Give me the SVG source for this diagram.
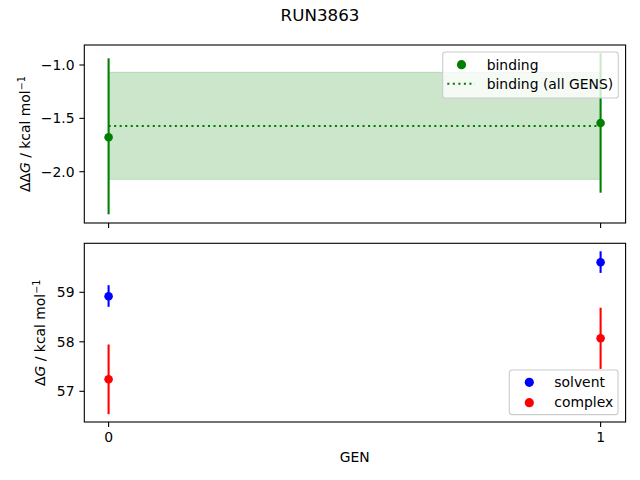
<svg xmlns="http://www.w3.org/2000/svg" width="640" height="480" viewBox="0 0 640 480">
<style>
text{font-family:"DejaVu Sans","Liberation Sans",sans-serif;font-size:13.9px;fill:#000}
.spine{fill:none;stroke:#000;stroke-width:1.1}
.tick{stroke:#000;stroke-width:1.1}
.yt{text-anchor:end}
.xt{text-anchor:middle}
.eg{stroke:#008000;stroke-width:2.08}
.eb{stroke:#0000ff;stroke-width:2.08}
.er{stroke:#ff0000;stroke-width:2.08}
.leg{fill:#fff;fill-opacity:0.8;stroke:#cccccc;stroke-width:1.1}
</style>
<rect width="640" height="480" fill="#fff"/>
<text id="title" x="320" y="21" text-anchor="middle" style="font-size:16.7px">RUN3863</text>

<g id="top-axes">
  <rect x="108.6" y="72.3" width="492" height="107" fill="#008000" fill-opacity="0.2" stroke="#008000" stroke-opacity="0.2" stroke-width="1"/>
  <line x1="108.6" y1="126" x2="600.6" y2="126" stroke="#008000" stroke-width="2.08" stroke-dasharray="2.08 3.44"/>
  <line class="eg" x1="108.6" y1="58.3" x2="108.6" y2="214.3"/>
  <line class="eg" x1="600.6" y1="53.3" x2="600.6" y2="192.7"/>
  <circle cx="108.6" cy="137.3" r="4.3" fill="#008000"/>
  <circle cx="600.6" cy="123" r="4.3" fill="#008000"/>
  <rect class="spine" x="84.3" y="45" width="541.3" height="178"/>
  <line class="tick" x1="108.6" y1="223" x2="108.6" y2="227.9"/>
  <line class="tick" x1="600.6" y1="223" x2="600.6" y2="227.9"/>
  <line class="tick" x1="84.3" y1="65" x2="79.4" y2="65"/>
  <line class="tick" x1="84.3" y1="118.35" x2="79.4" y2="118.35"/>
  <line class="tick" x1="84.3" y1="171.7" x2="79.4" y2="171.7"/>
  <text class="yt" x="74.5" y="70.1">−1.0</text>
  <text class="yt" x="74.5" y="123.4">−1.5</text>
  <text class="yt" x="74.5" y="176.8">−2.0</text>
  <text transform="translate(30,134) rotate(-90)" text-anchor="middle">ΔΔ<tspan font-style="italic">G</tspan> / kcal mol<tspan dy="-5.5" style="font-size:9.7px">−1</tspan></text>
  <g id="top-legend">
    <rect class="leg" x="442.7" y="52" width="175.6" height="46" rx="2.8"/>
    <circle cx="461.5" cy="64.7" r="4.6" fill="#008000"/>
    <text x="486.7" y="69.5">binding</text>
    <line x1="447.3" y1="83.7" x2="475" y2="83.7" stroke="#008000" stroke-width="2.08" stroke-dasharray="2.08 3.44"/>
    <text x="486.7" y="88.6">binding (all GENS)</text>
  </g>
</g>

<g id="bottom-axes">
  <line class="eb" x1="108.6" y1="285.2" x2="108.6" y2="306.8"/>
  <line class="er" x1="108.6" y1="344.5" x2="108.6" y2="414.1"/>
  <line class="eb" x1="600.6" y1="251.3" x2="600.6" y2="272.9"/>
  <line class="er" x1="600.6" y1="307.7" x2="600.6" y2="368.9"/>
  <circle cx="108.6" cy="296.3" r="4.3" fill="#0000ff"/>
  <circle cx="108.6" cy="379.3" r="4.3" fill="#ff0000"/>
  <circle cx="600.6" cy="262.3" r="4.3" fill="#0000ff"/>
  <circle cx="600.6" cy="338.3" r="4.3" fill="#ff0000"/>
  <rect class="spine" x="84.3" y="243.3" width="541.3" height="178.7"/>
  <line class="tick" x1="108.6" y1="422" x2="108.6" y2="426.9"/>
  <line class="tick" x1="600.6" y1="422" x2="600.6" y2="426.9"/>
  <text class="xt" x="108.6" y="441.6">0</text>
  <text class="xt" x="600.6" y="441.6">1</text>
  <line class="tick" x1="84.3" y1="292.3" x2="79.4" y2="292.3"/>
  <line class="tick" x1="84.3" y1="341.8" x2="79.4" y2="341.8"/>
  <line class="tick" x1="84.3" y1="391.3" x2="79.4" y2="391.3"/>
  <text class="yt" x="74.5" y="297.4">59</text>
  <text class="yt" x="74.5" y="346.9">58</text>
  <text class="yt" x="74.5" y="396.4">57</text>
  <text transform="translate(45,332.7) rotate(-90)" text-anchor="middle">Δ<tspan font-style="italic">G</tspan> / kcal mol<tspan dy="-5.5" style="font-size:9.7px">−1</tspan></text>
  <text x="354.8" y="462.3" text-anchor="middle">GEN</text>
  <g id="bottom-legend">
    <rect class="leg" x="509.3" y="370" width="108.7" height="44.6" rx="2.8"/>
    <circle cx="529.3" cy="382.3" r="4.6" fill="#0000ff"/>
    <text x="554.3" y="387">solvent</text>
    <circle cx="529.3" cy="402.7" r="4.6" fill="#ff0000"/>
    <text x="554.3" y="407.4">complex</text>
  </g>
</g>
</svg>
